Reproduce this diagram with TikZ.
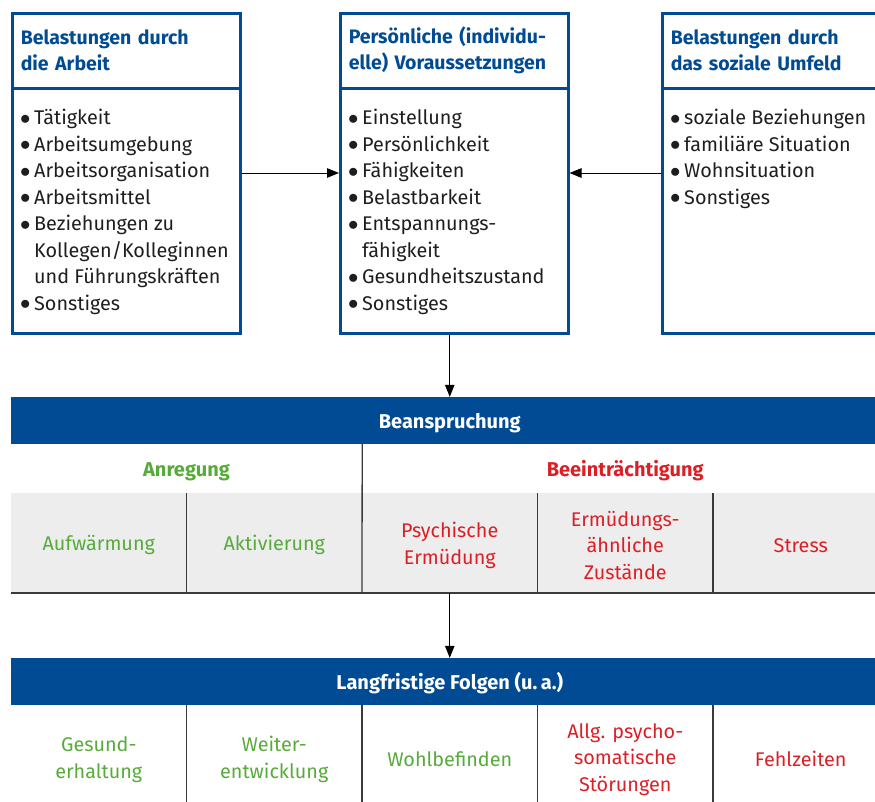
\documentclass[tikz,border=0pt]{standalone}
\usepackage{fontspec}
\setmainfont{Fira Sans}
\usetikzlibrary{arrows.meta,positioning}
\definecolor{bgblau}{HTML}{004B93}
\definecolor{bggruen}{HTML}{57AB3A}
\definecolor{bgrot}{HTML}{DC1F26}
\definecolor{bggrau}{HTML}{EDEDED}
\definecolor{bglinie}{HTML}{3A3A3A}
\definecolor{bgtext}{HTML}{1E1E1E}
\newcommand{\punkt}{\makebox[14pt][l]{\raisebox{0.5pt}{$\bullet$}}}
\newcommand{\oben}{\rule{0pt}{20pt}}

\tikzset{
	kopf/.style={draw=bgblau,line width=2.5pt,anchor=north west,minimum width=228pt,minimum height=75pt,
		inner xsep=8.5pt,text width=211pt,align=left,font=\fontsize{19.5}{26}\selectfont\bfseries,text=bgblau},
	rumpf/.style={draw=bgblau,line width=2.5pt,anchor=north west,minimum width=228pt,minimum height=245pt},
	liste/.style={anchor=north west,inner sep=0pt,align=left,font=\fontsize{19.8}{26.5}\selectfont,text=bgtext},
	tief/.style={execute at begin node={\oben}},
	band/.style={tief,fill=bgblau,minimum width=877.5pt,minimum height=47pt,inner sep=0pt,text=white,
		font=\fontsize{20}{26}\selectfont\bfseries},
	gruppe/.style={tief,minimum height=49pt,inner sep=0pt,font=\fontsize{20}{26}\selectfont\bfseries},
	zelle/.style={tief,minimum width=175.5pt,minimum height=100pt,inner sep=0pt,outer sep=0pt,align=center,
		font=\fontsize{19.8}{26.5}\selectfont},
	grau/.style={zelle,fill=bggrau},
	trenn/.style={bglinie,line width=1.3pt},
	grund/.style={bglinie,line width=1.8pt},
	pfeil/.style={black,line width=1pt,-{Triangle[length=12pt,width=9.5pt]}}
}
\tikzset{
	arbeit/.pic={
		code={
\node[rumpf](-rumpf) at (0,75){};
\node[kopf](-kopf) at (0,0){Belastungen durch\\die Arbeit};
\node[liste](-text) at (9,97){\punkt Tätigkeit\\\punkt Arbeitsumgebung\\\punkt Arbeitsorganisation\\
	\punkt Arbeitsmittel\\\punkt Beziehungen zu\\\hspace*{14pt}Kollegen/Kolleginnen\\
	\hspace*{14pt}und Führungskräften\\\punkt Sonstiges};
		}
	}
}
\tikzset{
	person/.pic={
		code={
\node[rumpf](-rumpf) at (0,75){};
\node[kopf](-kopf) at (0,0){Persönliche (individu-\\elle) Voraussetzungen};
\node[liste](-text) at (9,97){\punkt Einstellung\\\punkt Persönlichkeit\\\punkt Fähigkeiten\\
	\punkt Belastbarkeit\\\punkt Entspannungs-\\\hspace*{14pt}fähigkeit\\
	\punkt Gesundheitszustand\\\punkt Sonstiges};
		}
	}
}
\tikzset{
	umfeld/.pic={
		code={
\node[rumpf](-rumpf) at (0,75){};
\node[kopf](-kopf) at (0,0){Belastungen durch\\das soziale Umfeld};
\node[liste](-text) at (9,97){\punkt soziale Beziehungen\\\punkt familiäre Situation\\
	\punkt Wohnsituation\\\punkt Sonstiges};
		}
	}
}

\begin{document}
\begin{tikzpicture}[x=1pt,y=-1pt]
\useasboundingbox (0,0) rectangle (875,801);

%Kaesten oben
\path (11,12) pic (arb) {arbeit};
\path (339,12) pic (pers) {person};
\path (661,12) pic (soz) {umfeld};

%Beanspruchung
\node[band] (beansp) at (449.75,420.5) {Beanspruchung};
\node[gruppe,minimum width=351pt,text=bggruen] (anreg) at (186.5,468.5) {Anregung};
\node[gruppe,minimum width=526.5pt,text=bgrot] (beeintr) at (625.25,468.5) {Beeinträchtigung};
\node[grau,text=bggruen] (aufw) at (98.75,543) {Aufwärmung};
\node[grau,text=bggruen] (aktiv) at (274.25,543) {Aktivierung};
\node[grau,text=bgrot] (psych) at (449.75,543) {\oben Psychische\\Ermüdung};
\node[grau,text=bgrot] (ermued) at (625.25,543) {\oben Ermüdungs-\\ähnliche\\Zustände};
\node[grau,text=bgrot] (stress) at (800.75,543) {Stress};

\draw[trenn] (aufw.north east) -- (aufw.south east);
\draw[trenn] (anreg.north east) -- (aktiv.south east);
\draw[trenn] (psych.north east) -- (psych.south east);
\draw[trenn] (ermued.north east) -- (ermued.south east);
\draw[grund] (aufw.south west) -- (stress.south east);

%Langfristige Folgen
\node[band] (folgen) at (449.75,681.5) {Langfristige Folgen (u.\,a.)};
\node[zelle,minimum height=104pt,text=bggruen] (gesund) at (98.75,757) {\oben Gesund-\\erhaltung};
\node[zelle,minimum height=104pt,text=bggruen] (weiter) at (274.25,757) {\oben Weiter-\\entwicklung};
\node[zelle,minimum height=104pt,text=bggruen] (wohl) at (449.75,757) {Wohlbefinden};
\node[zelle,minimum height=104pt,text=bgrot] (psycho) at (625.25,757) {\oben Allg. psycho-\\somatische\\Störungen};
\node[zelle,minimum height=104pt,text=bgrot] (fehl) at (800.75,757) {Fehlzeiten};

\draw[trenn] (gesund.north east) -- (gesund.south east);
\draw[trenn] (weiter.north east) -- (weiter.south east);
\draw[trenn] (wohl.north east) -- (wohl.south east);
\draw[trenn] (psycho.north east) -- (psycho.south east);

%Pfeile
\coordinate (pfeilhoehe) at (0,173);
\draw[pfeil] (arb-rumpf.east |- pfeilhoehe) -- (pers-rumpf.west |- pfeilhoehe);
\draw[pfeil] (soz-rumpf.west |- pfeilhoehe) -- (pers-rumpf.east |- pfeilhoehe);
\draw[pfeil] (pers-rumpf.south -| beansp.north) -- (beansp.north);
\draw[pfeil] (psych.south) -- (folgen.north);
\end{tikzpicture}
\end{document}
